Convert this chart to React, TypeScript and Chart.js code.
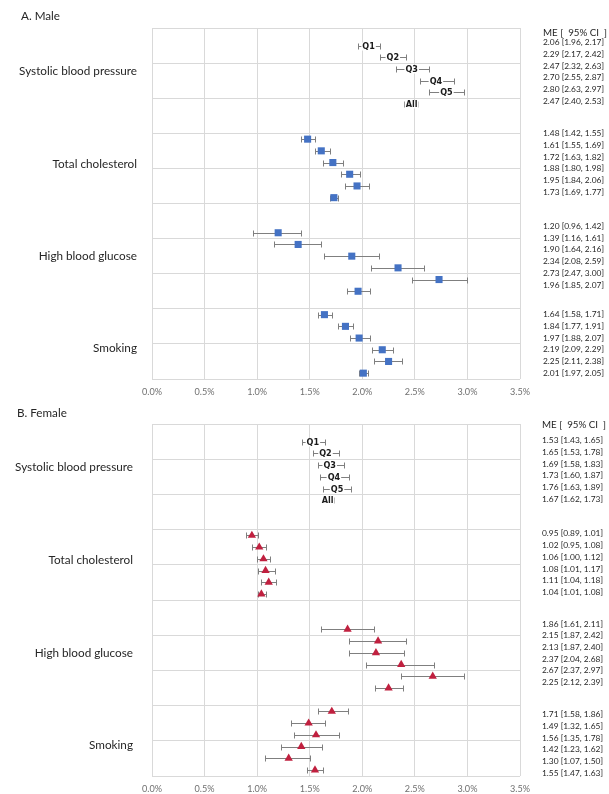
import React, { useEffect, useRef } from "react";
import { Chart, registerables } from "chart.js";

Chart.register(...registerables);

// ---------- data ----------
const groups = ["Systolic blood pressure", "Total cholesterol", "High blood glucose", "Smoking"];
const quintiles = ["Q1", "Q2", "Q3", "Q4", "Q5", "All"];
const xTicks = [0, 0.5, 1, 1.5, 2, 2.5, 3, 3.5];

// Male (rows: SBP Q1..All, TC Q1..All, HBG Q1..All, Smoking Q1..All)
const maleME = [2.06, 2.29, 2.47, 2.70, 2.80, 2.47, 1.48, 1.61, 1.72, 1.88, 1.95, 1.73, 1.20, 1.39, 1.90, 2.34, 2.73, 1.96, 1.64, 1.84, 1.97, 2.19, 2.25, 2.01];
const maleLo = [1.96, 2.17, 2.32, 2.55, 2.63, 2.40, 1.42, 1.55, 1.63, 1.80, 1.84, 1.69, 0.96, 1.16, 1.64, 2.08, 2.47, 1.85, 1.58, 1.77, 1.88, 2.09, 2.11, 1.97];
const maleHi = [2.17, 2.42, 2.63, 2.87, 2.97, 2.53, 1.55, 1.69, 1.82, 1.98, 2.06, 1.77, 1.42, 1.61, 2.16, 2.59, 3.00, 2.07, 1.71, 1.91, 2.07, 2.29, 2.38, 2.05];

// Female
const femaleME = [1.53, 1.65, 1.69, 1.73, 1.76, 1.67, 0.95, 1.02, 1.06, 1.08, 1.11, 1.04, 1.86, 2.15, 2.13, 2.37, 2.67, 2.25, 1.71, 1.49, 1.56, 1.42, 1.30, 1.55];
const femaleLo = [1.43, 1.53, 1.58, 1.60, 1.63, 1.62, 0.89, 0.95, 1.00, 1.01, 1.04, 1.01, 1.61, 1.87, 1.87, 2.04, 2.37, 2.12, 1.58, 1.32, 1.35, 1.23, 1.07, 1.47];
const femaleHi = [1.65, 1.78, 1.83, 1.87, 1.89, 1.73, 1.01, 1.08, 1.12, 1.17, 1.18, 1.08, 2.11, 2.42, 2.40, 2.68, 2.97, 2.39, 1.86, 1.65, 1.78, 1.62, 1.50, 1.63];

// row layout on the (reversed) y axis
const groupStart = [1.5, 9.5, 17.5, 24.5];
const groupLabelPos = [3.7, 11.6, 19.5, 27.4];
const yGrid = [0, 3, 6, 9, 12, 15, 18, 21, 24, 27, 30];

const FONT = 'Lato, "Open Sans", "DejaVu Sans", sans-serif';
const QFONT = 'bold 9px "Liberation Sans Narrow", "DejaVu Sans Condensed", "Liberation Sans", sans-serif';
const HEADER = "ME [  95% CI  ]";

type Panel = {
  title: string;
  me: number[];
  lo: number[];
  hi: number[];
  color: string;
  pointStyle: string;
  radius: number;
  padTop: number;
  xAxisH: number;
  titleX: number;
  titleY: number;
  labelRight: number;
  textX: number;
  headerY: number;
  textOffsets: number[];
};

const panelA: Panel = {
  title: "A. Male",
  me: maleME, lo: maleLo, hi: maleHi,
  color: "#4472C4", pointStyle: "rect", radius: 5,
  padTop: 28, xAxisH: 21,
  titleX: 21, titleY: 16, labelRight: 137, textX: 543,
  headerY: 0.38, textOffsets: [-0.25, -0.48, -0.55, 0],
};

const panelB: Panel = {
  title: "B. Female",
  me: femaleME, lo: femaleLo, hi: femaleHi,
  color: "#C0203F", pointStyle: "triangle", radius: 4.8,
  padTop: 24, xAxisH: 18,
  titleX: 17, titleY: 13, labelRight: 133, textX: 542,
  headerY: 0.1, textOffsets: [-0.1, -0.15, -0.47, 0.25],
};

const rowPos = (k: number) => groupStart[Math.floor(k / 6)] + (k % 6);

let mctx: CanvasRenderingContext2D | null = null;
function fitSize(text: string, target: number): number {
  if (!mctx) mctx = document.createElement("canvas").getContext("2d");
  (mctx as CanvasRenderingContext2D).font = `100px ${FONT}`;
  const w = (mctx as CanvasRenderingContext2D).measureText(text).width;
  return (100 * target) / w;
}

function makePlugin(p: Panel) {
  return {
    id: "forest",
    beforeDatasetsDraw(chart: any) {
      const { ctx, scales } = chart;
      const xs = scales.x, ys = scales.y;
      ctx.save();
      ctx.strokeStyle = "#7F7F7F";
      ctx.lineWidth = 1;
      p.me.forEach((_, k) => {
        const y = Math.round(ys.getPixelForValue(rowPos(k))) + 0.5;
        const x1 = Math.round(xs.getPixelForValue(p.lo[k])) + 0.5;
        const x2 = Math.round(xs.getPixelForValue(p.hi[k])) + 0.5;
        ctx.beginPath();
        ctx.moveTo(x1, y);
        ctx.lineTo(x2, y);
        ctx.moveTo(x1, y - 3);
        ctx.lineTo(x1, y + 3);
        ctx.moveTo(x2, y - 3);
        ctx.lineTo(x2, y + 3);
        ctx.stroke();
      });
      ctx.restore();
    },
    afterDatasetsDraw(chart: any) {
      const { ctx, scales } = chart;
      const xs = scales.x, ys = scales.y;
      ctx.save();
      ctx.font = QFONT;
      ctx.textAlign = "center";
      ctx.textBaseline = "middle";
      for (let i = 0; i < 6; i++) {
        const x = xs.getPixelForValue(p.me[i]);
        const y = Math.round(ys.getPixelForValue(rowPos(i))) + 0.5;
        const w = ctx.measureText(quintiles[i]).width;
        ctx.fillStyle = "#FFFFFF";
        ctx.fillRect(x - w / 2 - 1, y - 4, w + 2, 8);
        ctx.fillStyle = "#1A1A1A";
        ctx.fillText(quintiles[i], x, y + 0.5);
      }
      ctx.restore();
    },
    afterDraw(chart: any) {
      const { ctx, scales } = chart;
      const ys = scales.y;
      const titleSize = fitSize("A. Male", 39);
      const groupSize = fitSize("Systolic blood pressure", 118);
      const textSize = fitSize("2.06 [1.96, 2.17]", 61);
      const headSize = fitSize(HEADER, 64);
      ctx.save();
      ctx.textBaseline = "middle";
      // panel title
      ctx.fillStyle = "#262626";
      ctx.font = `${titleSize}px ${FONT}`;
      ctx.textAlign = "left";
      ctx.fillText(p.title, p.titleX, p.titleY);
      // group labels
      ctx.font = `${groupSize}px ${FONT}`;
      ctx.textAlign = "right";
      groups.forEach((g, i) => {
        ctx.fillText(g, p.labelRight, ys.getPixelForValue(groupLabelPos[i]));
      });
      // ME [95% CI] column
      ctx.textAlign = "left";
      ctx.font = `${headSize}px ${FONT}`;
      ctx.fillText(HEADER, p.textX, ys.getPixelForValue(p.headerY));
      ctx.font = `${textSize}px ${FONT}`;
      p.me.forEach((v, k) => {
        const g = Math.floor(k / 6);
        const s = `${v.toFixed(2)} [${p.lo[k].toFixed(2)}, ${p.hi[k].toFixed(2)}]`;
        ctx.fillText(s, p.textX, ys.getPixelForValue(rowPos(k) + p.textOffsets[g]));
      });
      ctx.restore();
    },
  };
}

function makeConfig(p: Panel): any {
  const data = p.me.map((v, k) => ({ x: v, y: rowPos(k) }));
  const tickSize = fitSize("0.0%", 20);
  return {
    type: "scatter",
    data: {
      datasets: [
        {
          data,
          pointStyle: p.pointStyle,
          pointRadius: data.map((_, k) => (k < 6 ? 0 : p.radius)),
          backgroundColor: p.color,
          borderColor: p.color,
          borderWidth: 0,
        },
      ],
    },
    options: {
      animation: false,
      responsive: false,
      events: [],
      layout: { padding: { left: 152, right: 89, top: p.padTop, bottom: 0 } },
      plugins: {
        legend: { display: false },
        tooltip: { enabled: false },
        title: { display: false },
      },
      scales: {
        x: {
          type: "linear",
          min: 0,
          max: 3.5,
          afterBuildTicks: (s: any) => {
            s.ticks = xTicks.map((v) => ({ value: v }));
          },
          afterFit: (s: any) => {
            s.height = p.xAxisH;
          },
          ticks: {
            callback: (v: any) => Number(v).toFixed(1) + "%",
            font: { family: FONT, size: tickSize },
            color: "#707070",
            padding: 8,
            maxRotation: 0,
            autoSkip: false,
          },
          grid: { color: "#D9D9D9", drawTicks: false },
          border: { display: false },
        },
        y: {
          type: "linear",
          reverse: true,
          min: 0,
          max: 30,
          afterBuildTicks: (s: any) => {
            s.ticks = yGrid.map((v) => ({ value: v }));
          },
          afterFit: (s: any) => {
            s.width = 0;
          },
          ticks: { display: false },
          grid: { color: "#D9D9D9", drawTicks: false },
          border: { display: false },
        },
      },
    },
    plugins: [makePlugin(p)],
  };
}

export default function App() {
  const refA = useRef<HTMLCanvasElement>(null);
  const refB = useRef<HTMLCanvasElement>(null);
  useEffect(() => {
    const a = new Chart(refA.current as HTMLCanvasElement, makeConfig(panelA));
    const b = new Chart(refB.current as HTMLCanvasElement, makeConfig(panelB));
    return () => {
      a.destroy();
      b.destroy();
    };
  }, []);
  return (
    <div style={{ position: "absolute", left: 0, top: 0, width: 609, height: 794, overflow: "hidden", background: "#FFFFFF" }}>
      <canvas ref={refA} width={609} height={400} style={{ position: "absolute", left: 0, top: 0, width: 609, height: 400 }} />
      <canvas ref={refB} width={609} height={394} style={{ position: "absolute", left: 0, top: 400, width: 609, height: 394 }} />
    </div>
  );
}
